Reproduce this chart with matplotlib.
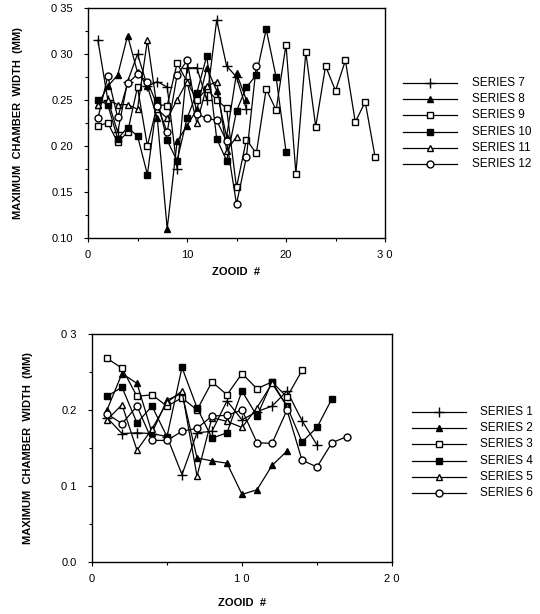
import numpy as np
import matplotlib
matplotlib.use("Agg")
import matplotlib.pyplot as plt
from matplotlib.ticker import MultipleLocator

plt.rcParams['font.family'] = ['Liberation Sans', 'DejaVu Sans']

# top panel (series 7-12)
s7 = [0.315, 0.25, 0.215, 0.27, 0.30, 0.265, 0.27, 0.264, 0.175, 0.285, 0.285, 0.25, 0.337, 0.287, 0.275, 0.24]
s8 = [0.245, 0.265, 0.277, 0.32, 0.28, 0.265, 0.23, 0.11, 0.205, 0.222, 0.24, 0.285, 0.26, 0.21, 0.279, 0.25]
s9 = [0.222, 0.225, 0.204, 0.215, 0.264, 0.20, 0.245, 0.244, 0.29, 0.27, 0.25, 0.262, 0.25, 0.241, 0.155,
      0.207, 0.192, 0.262, 0.239, 0.31, 0.17, 0.302, 0.221, 0.287, 0.26, 0.293, 0.226, 0.248, 0.188]
s10 = [0.25, 0.245, 0.208, 0.22, 0.211, 0.169, 0.25, 0.206, 0.184, 0.23, 0.258, 0.298, 0.208, 0.184, 0.238,
       0.264, 0.277, 0.327, 0.275, 0.194]
s11 = [0.245, 0.25, 0.245, 0.245, 0.24, 0.315, 0.24, 0.23, 0.25, 0.27, 0.225, 0.265, 0.27, 0.195, 0.21]
s12 = [0.230, 0.276, 0.231, 0.268, 0.278, 0.27, 0.244, 0.215, 0.277, 0.293, 0.235, 0.23, 0.228, 0.205, 0.137,
       0.188, 0.287]

# bottom panel (series 1-6)
s1 = [0.19, 0.169, 0.17, 0.169, 0.165, 0.115, 0.17, 0.172, 0.212, 0.187, 0.198, 0.205, 0.225, 0.186, 0.154]
s2 = [0.20, 0.248, 0.235, 0.17, 0.213, 0.222, 0.137, 0.133, 0.13, 0.089, 0.095, 0.127, 0.146]
s3 = [0.268, 0.255, 0.218, 0.22, 0.205, 0.216, 0.20, 0.237, 0.22, 0.248, 0.228, 0.237, 0.217, 0.252]
s4 = [0.218, 0.23, 0.183, 0.205, 0.165, 0.256, 0.203, 0.163, 0.17, 0.225, 0.192, 0.237, 0.205, 0.158,
      0.177, 0.215]
s5 = [0.187, 0.207, 0.147, 0.175, 0.21, 0.225, 0.113, 0.19, 0.185, 0.177, 0.203, 0.235, 0.205]
s6 = [0.195, 0.182, 0.205, 0.16, 0.16, 0.172, 0.176, 0.192, 0.193, 0.2, 0.157, 0.156, 0.2, 0.134, 0.125,
      0.157, 0.165]

styles = [dict(marker='+', mfc='k', ms=7, mew=1.0),
          dict(marker='^', mfc='k', ms=5),
          dict(marker='s', mfc='w', ms=5),
          dict(marker='s', mfc='k', ms=5),
          dict(marker='^', mfc='w', ms=5),
          dict(marker='o', mfc='w', ms=5)]

fig = plt.figure(figsize=(5.4, 6.14), dpi=100)


def panel(rect, series, names, xlim, ylim, yminor, xt, xtl, yt, ytl, leg_y, leg_x, leg_dx, leg_fs, xpad):
    ax = fig.add_axes(rect)
    for s, st in zip(series, styles):
        x = np.arange(1, len(s) + 1)
        ax.plot(x, s, color='k', lw=0.9, mec='k', **st)
    ax.set_xlim(*xlim)
    ax.set_ylim(*ylim)
    ax.set_xticks(xt)
    ax.set_xticklabels(xtl)
    ax.set_yticks(yt)
    ax.set_yticklabels(ytl)
    ax.xaxis.set_minor_locator(MultipleLocator(5))
    ax.yaxis.set_minor_locator(MultipleLocator(yminor))
    ax.tick_params(labelsize=8, length=3, width=0.8, pad=6)
    ax.tick_params(which='minor', length=2, width=0.8)
    ax.tick_params(axis='y', pad=8)
    for sp in ax.spines.values():
        sp.set_linewidth(1.0)
    ax.set_xlabel('ZOOID  #', fontsize=8, fontweight='bold', labelpad=xpad)
    ax.set_ylabel('MAXIMUM  CHAMBER  WIDTH  (MM)', fontsize=8, fontweight='bold', labelpad=20)
    # legend drawn by hand, placed to the right of the box like the scan
    for i, (name, st) in enumerate(zip(names, styles)):
        y = 1 - (leg_y + 16.3 * i) / 614
        x0, x1 = leg_x / 540, (leg_x + 54) / 540
        fig.add_artist(plt.Line2D([x0, x1], [y, y], color='k', lw=0.9))
        fig.add_artist(plt.Line2D([(x0 + x1) / 2], [y], color='k', mec='k', **st))
        fig.text((leg_x + leg_dx) / 540, y, name, fontsize=leg_fs, va='center', ha='left')
    return ax


panel([88 / 540, 1 - 238 / 614, 297 / 540, 230 / 614],
      [s7, s8, s9, s10, s11, s12],
      ['SERIES 7', 'SERIES 8', 'SERIES 9', 'SERIES 10', 'SERIES 11', 'SERIES 12'],
      (0, 30), (0.10, 0.35), 0.025,
      [0, 10, 20, 30], ['0', '10', '20', '3 0'],
      [0.10, 0.15, 0.20, 0.25, 0.30, 0.35], ['0.10', '0.15', '0 20', '0.25', '0 30', '0 35'],
      82.7, 403, 69, 8.5, 5)

panel([92 / 540, 1 - 562 / 614, 300 / 540, 228 / 614],
      [s1, s2, s3, s4, s5, s6],
      ['SERIES 1', 'SERIES 2', 'SERIES 3', 'SERIES 4', 'SERIES 5', 'SERIES 6'],
      (0, 20), (0.0, 0.3), 0.05,
      [0, 10, 20], ['0', '1 0', '2 0'],
      [0.0, 0.1, 0.2, 0.3], ['0.0', '0 1', '0.2', '0 3'],
      411.7, 412, 68, 8.5, 10)

fig.savefig('out.png', dpi=100)
